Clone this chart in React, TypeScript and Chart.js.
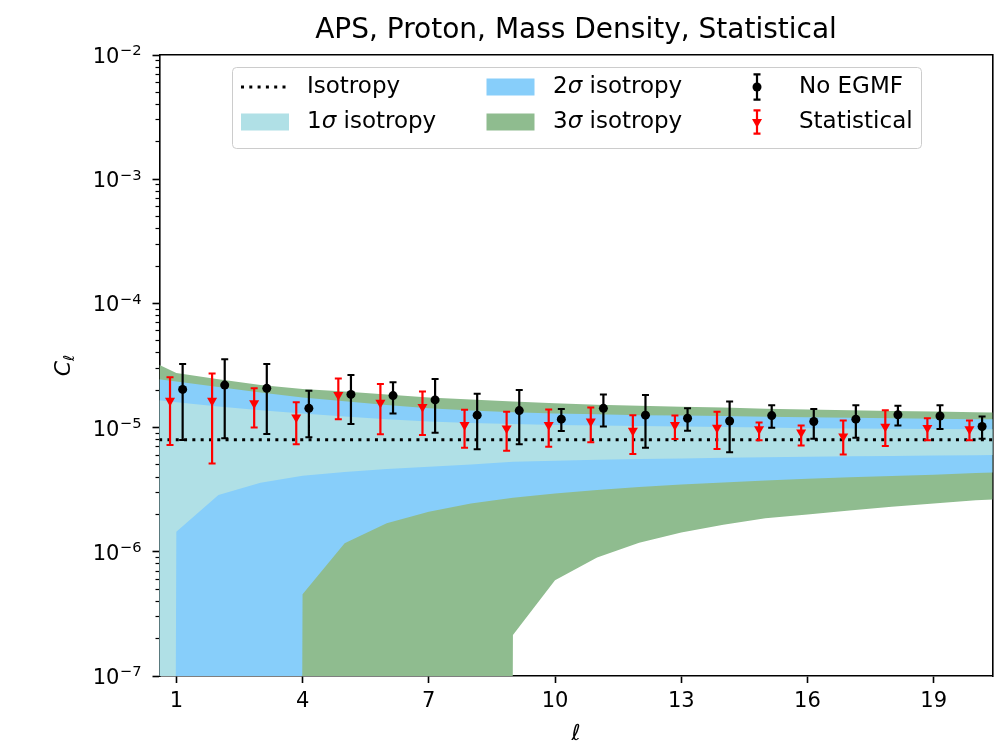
import React, { useEffect, useRef } from 'react';
import { Chart, registerables } from 'chart.js';

Chart.register(...registerables);

// ---------- data ----------
const ELL = [0, 1, 2, 3, 4, 5, 6, 7, 8, 9, 10, 11, 12, 13, 14, 15, 16, 17, 18, 19, 20, 21];
const ISOTROPY = [8e-6, 8e-6, 8e-6, 8e-6, 8e-6, 8e-6, 8e-6, 8e-6, 8e-6, 8e-6, 8e-6, 8e-6, 8e-6, 8e-6, 8e-6, 8e-6, 8e-6, 8e-6, 8e-6, 8e-6, 8e-6, 8e-6];

// band edges (1e-100 stands for "no lower bound" on the log axis)
const SIG1_LO = [1e-100, 1.45e-6, 2.86e-6, 3.6e-6, 4.1e-6, 4.4e-6, 4.65e-6, 4.85e-6, 5.05e-6, 5.3e-6, 5.4e-6, 5.5e-6, 5.58e-6, 5.65e-6, 5.72e-6, 5.78e-6, 5.83e-6, 5.88e-6, 5.92e-6, 5.96e-6, 6.0e-6, 6.03e-6];
const SIG1_HI = [1.75e-5, 1.6e-5, 1.48e-5, 1.38e-5, 1.3e-5, 1.23e-5, 1.17e-5, 1.12e-5, 1.09e-5, 1.07e-5, 1.05e-5, 1.04e-5, 1.03e-5, 1.02e-5, 1.01e-5, 1.0e-5, 9.9e-6, 9.85e-6, 9.8e-6, 9.75e-6, 9.7e-6, 9.65e-6];
const SIG2_LO = [1e-100, 1e-100, 1e-100, 1e-100, 4.55e-7, 1.17e-6, 1.7e-6, 2.1e-6, 2.45e-6, 2.72e-6, 2.95e-6, 3.15e-6, 3.32e-6, 3.48e-6, 3.62e-6, 3.75e-6, 3.87e-6, 3.98e-6, 4.08e-6, 4.18e-6, 4.3e-6, 4.4e-6];
const SIG2_HI = [2.6e-5, 2.35e-5, 2.12e-5, 1.92e-5, 1.75e-5, 1.63e-5, 1.52e-5, 1.43e-5, 1.37e-5, 1.33e-5, 1.3e-5, 1.28e-5, 1.26e-5, 1.25e-5, 1.24e-5, 1.22e-5, 1.21e-5, 1.2e-5, 1.19e-5, 1.18e-5, 1.17e-5, 1.16e-5];
const SIG3_LO = [1e-100, 1e-100, 1e-100, 1e-100, 1e-100, 1e-100, 1e-100, 1e-100, 1e-100, 2.14e-7, 5.9e-7, 9.0e-7, 1.18e-6, 1.43e-6, 1.65e-6, 1.86e-6, 2.0e-6, 2.15e-6, 2.3e-6, 2.45e-6, 2.6e-6, 2.7e-6];
const SIG3_HI = [4.0e-5, 2.75e-5, 2.45e-5, 2.2e-5, 2.05e-5, 1.95e-5, 1.85e-5, 1.75e-5, 1.68e-5, 1.62e-5, 1.57e-5, 1.53e-5, 1.5e-5, 1.47e-5, 1.45e-5, 1.42e-5, 1.4e-5, 1.38e-5, 1.36e-5, 1.35e-5, 1.33e-5, 1.32e-5];

const MULTIPOLES = [1, 2, 3, 4, 5, 6, 7, 8, 9, 10, 11, 12, 13, 14, 15, 16, 17, 18, 19, 20];
const NOEGMF = [2.03e-5, 2.2e-5, 2.07e-5, 1.43e-5, 1.85e-5, 1.81e-5, 1.67e-5, 1.26e-5, 1.37e-5, 1.17e-5, 1.43e-5, 1.26e-5, 1.19e-5, 1.13e-5, 1.25e-5, 1.12e-5, 1.17e-5, 1.27e-5, 1.24e-5, 1.02e-5];
const NOEGMF_LO = [7.94e-6, 8.2e-6, 8.88e-6, 8.35e-6, 1.07e-5, 1.3e-5, 9.1e-6, 6.69e-6, 7.33e-6, 9.39e-6, 1.02e-5, 6.89e-6, 9.44e-6, 6.32e-6, 9.96e-6, 8.15e-6, 8.3e-6, 1.04e-5, 9.73e-6, 8.15e-6];
const NOEGMF_HI = [3.25e-5, 3.55e-5, 3.25e-5, 1.98e-5, 2.65e-5, 2.32e-5, 2.46e-5, 1.87e-5, 2.01e-5, 1.41e-5, 1.85e-5, 1.83e-5, 1.43e-5, 1.62e-5, 1.51e-5, 1.41e-5, 1.51e-5, 1.5e-5, 1.51e-5, 1.23e-5];
const STAT = [1.65e-5, 1.65e-5, 1.57e-5, 1.21e-5, 1.83e-5, 1.59e-5, 1.47e-5, 1.05e-5, 9.87e-6, 1.05e-5, 1.12e-5, 9.44e-6, 1.05e-5, 1.0e-5, 9.73e-6, 9.13e-6, 8.51e-6, 1.02e-5, 9.96e-6, 9.73e-6];
const STAT_LO = [7.24e-6, 5.15e-6, 1.0e-5, 7.33e-6, 1.17e-5, 8.83e-6, 8.72e-6, 6.89e-6, 6.52e-6, 7.02e-6, 7.62e-6, 6.13e-6, 8.1e-6, 6.73e-6, 7.9e-6, 7.19e-6, 6.07e-6, 7.1e-6, 7.9e-6, 7.9e-6];
const STAT_HI = [2.54e-5, 2.73e-5, 2.07e-5, 1.6e-5, 2.49e-5, 2.24e-5, 1.95e-5, 1.39e-5, 1.34e-5, 1.4e-5, 1.45e-5, 1.26e-5, 1.25e-5, 1.34e-5, 1.1e-5, 1.04e-5, 1.14e-5, 1.38e-5, 1.19e-5, 1.14e-5];

const X_TICKS = [1, 4, 7, 10, 13, 16, 19];
const Y_TICKS = [1e-7, 1e-6, 1e-5, 1e-4, 1e-3, 1e-2];
const Y_MINOR_STEPS = [2, 3, 4, 5, 6, 7, 8, 9];

const TITLE = 'APS, Proton, Mass Density, Statistical';

// ---------- styles ----------
const C_SIG1 = '#B0E0E6';
const C_SIG2 = '#87CEFA';
const C_SIG3 = '#8FBC8F';
const C_BLACK = '#000000';
const C_RED = '#FF0000';
const FONT = "'DejaVu Sans', sans-serif";
const X_SHIFT = 0.15;
const AXIS_W = 1.6;

const series = (xs: number[], ys: number[]) => xs.map((x, i) => ({ x, y: ys[i] }));
const barSegments = (xs: number[], lo: number[], hi: number[]) =>
  xs.flatMap((x, i) => [{ x, y: lo[i] }, { x, y: hi[i] }, { x, y: null as any }]);
const capPoints = (xs: number[], lo: number[], hi: number[]) =>
  xs.flatMap((x, i) => [{ x, y: lo[i] }, { x, y: hi[i] }]);

// y tick labels drawn as 10 + raised exponent, placed by the y scale
const yLabelPlugin = {
  id: 'yPowLabels',
  afterDraw(chart: any) {
    const { ctx } = chart;
    const s = chart.scales.y;
    const right = s.right - 18;
    ctx.save();
    ctx.fillStyle = '#000';
    ctx.textBaseline = 'alphabetic';
    ctx.textAlign = 'left';
    const base = `21px ${FONT}`;
    const small = `14.7px ${FONT}`;
    Y_TICKS.forEach((v) => {
      const py = s.getPixelForValue(v);
      const exp = '\u2212' + String(Math.abs(Math.round(Math.log10(v))));
      ctx.font = small;
      const ew = ctx.measureText(exp).width;
      const ex = right - ew;
      ctx.fillText(exp, ex, py + 0.3);
      ctx.font = base;
      const bw = ctx.measureText('10').width;
      ctx.fillText('10', ex - bw - 0.5, py + 7.9);
    });
    ctx.restore();
  },
};

const legendPlugin = {
  id: 'mplLegend',
  afterDraw(chart: any) {
    const { ctx, chartArea: a } = chart;
    const bx = a.left + 72.5, by = a.top + 12, bw = 689, bh = 81;
    ctx.save();
    ctx.beginPath();
    if (ctx.roundRect) ctx.roundRect(bx + 0.5, by + 0.5, bw, bh, 4);
    else ctx.rect(bx + 0.5, by + 0.5, bw, bh);
    ctx.fillStyle = 'rgba(255,255,255,0.8)';
    ctx.fill();
    ctx.lineWidth = 1;
    ctx.strokeStyle = '#cccccc';
    ctx.stroke();

    const fs = 23;
    const normal = `${fs}px ${FONT}`;
    const italic = `italic ${fs}px ${FONT}`;
    const r1 = by + 20, r2 = by + 55;
    const h1 = bx + 9, h2 = bx + 254.5, hw = 48;
    const t1 = bx + 75, t2 = bx + 321, t3 = bx + 567;
    const m3 = bx + 525;

    ctx.textBaseline = 'middle';
    ctx.textAlign = 'left';
    ctx.fillStyle = '#000';

    const sigmaText = (x: number, y: number, n: string) => {
      ctx.font = normal;
      ctx.fillText(n, x, y);
      let w = ctx.measureText(n).width;
      ctx.font = italic;
      ctx.fillText('\u03C3', x + w, y);
      w += ctx.measureText('\u03C3').width;
      ctx.font = normal;
      ctx.fillText(' isotropy', x + w, y);
    };

    // Isotropy
    ctx.save();
    ctx.strokeStyle = C_BLACK;
    ctx.lineWidth = 3;
    ctx.setLineDash([3, 5.3]);
    ctx.beginPath();
    ctx.moveTo(h1, r1);
    ctx.lineTo(h1 + hw, r1);
    ctx.stroke();
    ctx.restore();
    ctx.font = normal;
    ctx.fillText('Isotropy', t1, r1);

    // 1 sigma
    ctx.fillStyle = C_SIG1;
    ctx.fillRect(h1, r2 - 8.5, hw, 17);
    ctx.fillStyle = '#000';
    sigmaText(t1, r2, '1');

    // 2 sigma / 3 sigma
    ctx.fillStyle = C_SIG2;
    ctx.fillRect(h2, r1 - 8.5, hw, 17);
    ctx.fillStyle = C_SIG3;
    ctx.fillRect(h2, r2 - 8.5, hw, 17);
    ctx.fillStyle = '#000';
    sigmaText(t2, r1, '2');
    sigmaText(t2, r2, '3');

    // error bar handles
    const errHandle = (y: number, half: number, color: string, tri: boolean) => {
      ctx.strokeStyle = color;
      ctx.fillStyle = color;
      ctx.lineWidth = 2.2;
      ctx.beginPath();
      ctx.moveTo(m3, y - half);
      ctx.lineTo(m3, y + half);
      ctx.moveTo(m3 - 3.5, y - half);
      ctx.lineTo(m3 + 3.5, y - half);
      ctx.moveTo(m3 - 3.5, y + half);
      ctx.lineTo(m3 + 3.5, y + half);
      ctx.stroke();
      ctx.beginPath();
      if (tri) {
        const r = 5.8;
        ctx.moveTo(m3, y + r);
        ctx.lineTo(m3 - r * 0.866, y - r * 0.5);
        ctx.lineTo(m3 + r * 0.866, y - r * 0.5);
        ctx.closePath();
      } else {
        ctx.arc(m3, y, 4.5, 0, Math.PI * 2);
      }
      ctx.fill();
    };
    errHandle(r1, 12.7, C_BLACK, false);
    errHandle(r2, 11.7, C_RED, true);

    ctx.fillStyle = '#000';
    ctx.font = normal;
    ctx.fillText('No EGMF', t3, r1);
    ctx.fillText('Statistical', t3, r2);
    ctx.restore();
  },
};

const yTitlePlugin = {
  id: 'yTitle',
  afterDraw(chart: any) {
    const { ctx, chartArea: a } = chart;
    const cx = 62, cy = (a.top + a.bottom) / 2;
    ctx.save();
    ctx.translate(cx, cy);
    ctx.rotate(-Math.PI / 2);
    ctx.fillStyle = '#000';
    ctx.textBaseline = 'alphabetic';
    ctx.textAlign = 'left';
    const big = `italic 22px ${FONT}`;
    const small = `italic 15px ${FONT}`;
    ctx.font = big;
    const wC = ctx.measureText('C').width;
    ctx.font = small;
    const wl = ctx.measureText('\u2113').width;
    const x0 = -(wC + wl) / 2;
    ctx.font = big;
    ctx.fillText('C', x0, 8);
    ctx.font = small;
    ctx.fillText('\u2113', x0 + wC, 12);
    ctx.restore();
  },
};

export default function App() {
  const ref = useRef<HTMLCanvasElement | null>(null);

  useEffect(() => {
    if (!ref.current) return;
    Chart.defaults.font.family = FONT;
    Chart.defaults.color = '#000';

    const blackX = MULTIPOLES.map((l) => l + X_SHIFT);
    const redX = MULTIPOLES.map((l) => l - X_SHIFT);

    const hidden = { borderWidth: 0, pointRadius: 0, borderColor: 'rgba(0,0,0,0)', fill: false };

    const chart = new Chart(ref.current, {
      type: 'line',
      data: {
        datasets: [
          { label: 'Statistical', data: series(redX, STAT), showLine: false, pointStyle: 'triangle', pointRotation: 180, pointRadius: 5.8, backgroundColor: C_RED, borderColor: C_RED, pointBorderWidth: 0, clip: 0 } as any,
          { data: capPoints(redX, STAT_LO, STAT_HI), showLine: false, pointStyle: 'line', pointRadius: 3.5, borderColor: C_RED, pointBorderWidth: 2, clip: 0 } as any,
          { data: barSegments(redX, STAT_LO, STAT_HI), borderColor: C_RED, borderWidth: 2.2, pointRadius: 0, spanGaps: false, clip: 0 } as any,
          { label: 'No EGMF', data: series(blackX, NOEGMF), showLine: false, pointStyle: 'circle', pointRadius: 4.5, backgroundColor: C_BLACK, borderColor: C_BLACK, pointBorderWidth: 0, clip: 0 } as any,
          { data: capPoints(blackX, NOEGMF_LO, NOEGMF_HI), showLine: false, pointStyle: 'line', pointRadius: 3.5, borderColor: C_BLACK, pointBorderWidth: 2, clip: 0 } as any,
          { data: barSegments(blackX, NOEGMF_LO, NOEGMF_HI), borderColor: C_BLACK, borderWidth: 2.2, pointRadius: 0, spanGaps: false, clip: 0 } as any,
          { label: 'Isotropy', data: series(ELL, ISOTROPY), borderColor: C_BLACK, borderWidth: 3, borderDash: [3, 5.3], borderCapStyle: 'butt', pointRadius: 0, fill: false, clip: 0 } as any,
          { data: series(ELL, SIG1_LO), ...hidden, clip: 0 } as any,
          { label: '1\u03C3 isotropy', data: series(ELL, SIG1_HI), ...hidden, fill: '-1', backgroundColor: C_SIG1, clip: 0 } as any,
          { data: series(ELL, SIG2_LO), ...hidden, clip: 0 } as any,
          { label: '2\u03C3 isotropy', data: series(ELL, SIG2_HI), ...hidden, fill: '-1', backgroundColor: C_SIG2, clip: 0 } as any,
          { data: series(ELL, SIG3_LO), ...hidden, clip: 0 } as any,
          { label: '3\u03C3 isotropy', data: series(ELL, SIG3_HI), ...hidden, fill: '-1', backgroundColor: C_SIG3, clip: 0 } as any,
        ],
      },
      options: {
        animation: false,
        responsive: false,
        devicePixelRatio: 1,
        events: [],
        elements: { line: { tension: 0 } },
        layout: { padding: { left: 0, right: 6.4, top: 0, bottom: 0 } },
        plugins: {
          legend: { display: false },
          tooltip: { enabled: false },
          title: {
            display: true,
            fullSize: false,
            text: TITLE,
            color: '#000',
            font: { size: 28, weight: 'normal', family: FONT, lineHeight: 1.2 },
            padding: { top: 14, bottom: 7.4 },
          },
        },
        scales: {
          x: {
            type: 'linear',
            position: 'bottom',
            min: 0.6,
            max: 20.4,
            afterBuildTicks: (s: any) => { s.ticks = X_TICKS.map((v) => ({ value: v })); },
            afterFit: (s: any) => { s.height = 65; },
            ticks: { font: { size: 21, family: FONT }, color: '#000', padding: 6, maxRotation: 0 },
            grid: { drawOnChartArea: false, drawTicks: true, tickLength: 7, tickWidth: AXIS_W, tickColor: '#000' },
            border: { display: true, color: '#000', width: AXIS_W },
            title: { display: true, text: '\u2113', color: '#000', font: { size: 22, style: 'italic', family: FONT, lineHeight: 0.6 }, padding: 0 },
          },
          xTop: {
            type: 'linear',
            position: 'top',
            min: 0.6,
            max: 20.4,
            afterFit: (s: any) => { s.height = 0; },
            ticks: { display: false },
            grid: { drawOnChartArea: false, drawTicks: false },
            border: { display: true, color: '#000', width: AXIS_W },
          },
          y: {
            type: 'logarithmic',
            position: 'left',
            weight: 1,
            min: 1e-7,
            max: 1e-2,
            afterBuildTicks: (s: any) => { s.ticks = Y_TICKS.map((v) => ({ value: v })); },
            afterFit: (s: any) => { s.width = 159.5; },
            ticks: { display: false, autoSkip: false },
            grid: { drawOnChartArea: false, drawTicks: true, tickLength: 7, tickWidth: AXIS_W, tickColor: '#000' },
            border: { display: true, color: '#000', width: AXIS_W },
          },
          yMinor: {
            type: 'logarithmic',
            position: 'left',
            weight: 0,
            min: 1e-7,
            max: 1e-2,
            afterBuildTicks: (s: any) => {
              s.ticks = Y_TICKS.slice(0, -1).flatMap((d) => Y_MINOR_STEPS.map((m) => ({ value: d * m })));
            },
            afterFit: (s: any) => { s.width = 0; },
            ticks: { display: false, autoSkip: false },
            grid: { drawOnChartArea: false, drawTicks: true, tickLength: 4, tickWidth: 1.2, tickColor: '#000' },
            border: { display: false },
          },
          yRight: {
            type: 'linear',
            position: 'right',
            min: 0,
            max: 1,
            afterFit: (s: any) => { s.width = 0; },
            ticks: { display: false },
            grid: { drawOnChartArea: false, drawTicks: false },
            border: { display: true, color: '#000', width: AXIS_W },
          },
        },
      } as any,
      plugins: [legendPlugin, yTitlePlugin, yLabelPlugin],
    });
    return () => chart.destroy();
  }, []);

  return (
    <div style={{ position: 'fixed', left: 0, top: 0, width: 999, height: 741, background: '#fff' }}>
      <canvas ref={ref} width={999} height={741} style={{ width: 999, height: 741, display: 'block' }} />
    </div>
  );
}
